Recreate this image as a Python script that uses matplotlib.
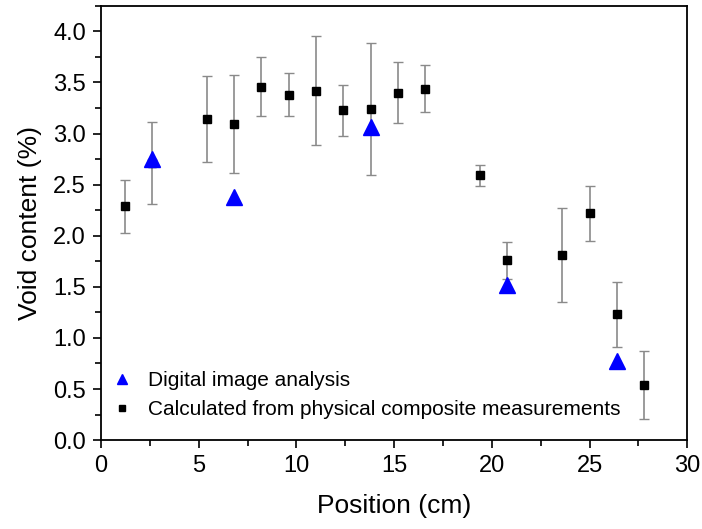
import matplotlib
matplotlib.use("Agg")
import matplotlib.pyplot as plt
from matplotlib.ticker import MultipleLocator

plt.rcParams["font.family"] = ["Liberation Sans", "DejaVu Sans"]

# Calculated from physical composite measurements
calc_pos = [1.2, 2.6, 5.4, 6.8, 8.2, 9.6, 11.0, 12.4, 13.8, 15.2, 16.6,
            19.4, 20.8, 23.6, 25.0, 26.4, 27.8]
calc_void = [2.29, 2.71, 3.14, 3.09, 3.46, 3.38, 3.42, 3.23, 3.24, 3.40, 3.44,
             2.59, 1.76, 1.81, 2.22, 1.23, 0.54]
calc_err = [0.26, 0.40, 0.42, 0.48, 0.29, 0.21, 0.53, 0.25, 0.65, 0.30, 0.23,
            0.10, 0.18, 0.46, 0.27, 0.32, 0.33]

# Digital image analysis
img_pos = [2.6, 6.8, 13.8, 20.8, 26.4]
img_void = [2.75, 2.38, 3.06, 1.52, 0.77]

fig = plt.figure(figsize=(7.02, 5.29), dpi=100)
ax = fig.add_axes([0.144, 0.168, 0.835, 0.821])

ax.errorbar(calc_pos, calc_void, yerr=calc_err, fmt="none", ecolor="#8a8a8a",
            elinewidth=1.2, capsize=3.3, capthick=1.0, zorder=2)
sq = ax.plot(calc_pos, calc_void, "s", color="black", markersize=6.4,
             linestyle="none", zorder=3,
             label="Calculated from physical composite measurements")[0]
tri = ax.plot(img_pos, img_void, "^", color="#0000ff", markersize=11.5,
              linestyle="none", zorder=4, label="Digital image analysis")[0]

ax.set_xlim(0, 30)
ax.set_ylim(0, 4.25)
ax.xaxis.set_major_locator(MultipleLocator(5))
ax.xaxis.set_minor_locator(MultipleLocator(2.5))
ax.yaxis.set_major_locator(MultipleLocator(0.5))
ax.yaxis.set_minor_locator(MultipleLocator(0.25))
ax.tick_params(which="both", direction="out", top=False, right=False,
               labelsize=17, width=1.2, pad=5)
ax.tick_params(which="major", length=6)
ax.tick_params(which="minor", length=4)
for s in ax.spines.values():
    s.set_linewidth(1.3)

ax.set_xlabel("Position (cm)", fontsize=19, labelpad=12)
ax.set_ylabel("Void content (%)", fontsize=19, labelpad=8)

ax.legend(handles=[tri, sq], loc="lower left", bbox_to_anchor=(0.0, 0.025),
          frameon=False, fontsize=15, handlelength=1.0, handletextpad=0.75,
          labelspacing=0.45, markerscale=0.6, borderaxespad=0.1)

fig.savefig("out.png", dpi=100)
